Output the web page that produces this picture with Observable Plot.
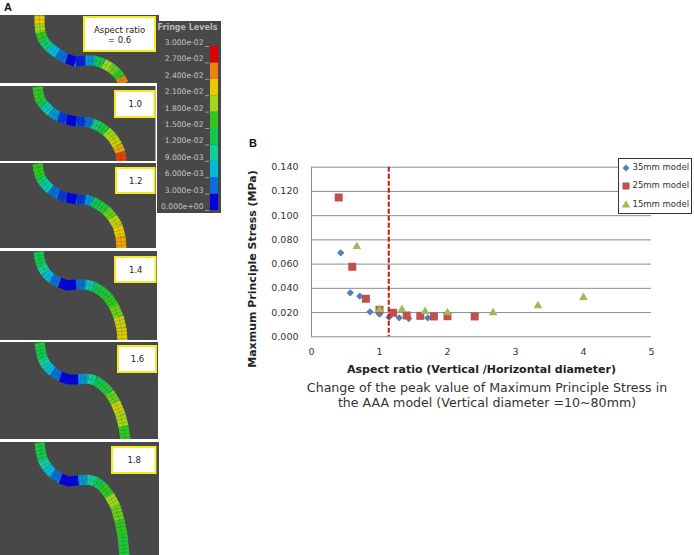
<!DOCTYPE html>
<html>
<head>
<meta charset="utf-8">
<script src="https://cdn.jsdelivr.net/npm/d3@7"></script>
<script src="https://cdn.jsdelivr.net/npm/@observablehq/plot@0.6"></script>
<style>
html,body{margin:0;padding:0;background:#fff;width:694px;height:555px;overflow:hidden;font-family:"DejaVu Sans",sans-serif}
#a,#b{position:absolute;top:0;left:0}
#b{left:240px;top:150px}
svg{display:block;background:transparent!important}
.tag{position:absolute;font:bold 11px "Liberation Sans",sans-serif;color:#111}
#caption{position:absolute;left:267px;top:380px;width:440px;text-align:center;font-size:12.6px;line-height:15px;color:#333}
#legend{position:absolute;left:618px;top:158px;width:72px;height:54px;border:1.5px solid #333;background:#fff;font-size:8.5px;color:#333}
#legend div{position:absolute;left:13.5px;white-space:nowrap}
#legend svg{position:absolute;left:2px}
</style>
</head>
<body>
<div id="a"></div>
<div id="b"></div>
<div class="tag" style="left:4px;top:1px">A</div>
<div class="tag" style="left:249px;top:137px">B</div>
<div id="caption"></div>
<div id="legend"></div>
<script>
// ---- Panel B data
const ratio35 = [0.43,0.57,0.71,0.86,1.0,1.14,1.29,1.43,1.71];
const stress35 = [0.0693,0.0363,0.0335,0.0206,0.0187,0.0162,0.0157,0.0151,0.0157];
const ratio25 = [0.4,0.6,0.8,1.0,1.2,1.4,1.6,1.8,2.0,2.4];
const stress25 = [0.115,0.0578,0.0314,0.0223,0.0198,0.0176,0.0173,0.0168,0.017,0.0168];
const ratio15 = [0.667,1.0,1.33,1.67,2.0,2.67,3.33,4.0];
const stress15 = [0.0745,0.0226,0.0226,0.0209,0.0198,0.0198,0.0256,0.0325];
const seriesNames = ["35mm model","25mm model","15mm model"];
const seriesColors = ["#4f81bd","#c0504d","#9bbb59"];
const seriesSymbols = ["diamond2","square","triangle"];
const seriesAreas = [34,64,32];
const cutoffRatio = 1.136;
const xTicks = [0,1,2,3,4,5];
const yTicks = [0,0.02,0.04,0.06,0.08,0.1,0.12,0.14];
const xTitle = "Aspect ratio (Vertical /Horizontal diameter)";
const yTitle = "Maxmum Principle Stress (MPa)";
const captionLines = ["Change of the peak value of Maximum Principle Stress in","the AAA model (Vertical diameter =10~80mm)"];

// ---- Panel A data (read in the picture's own pixel grid)
const levelColors = ["#0000e0","#0a6fd8","#00bcd8","#10d098","#10c850","#30c820","#a0d818","#ecc800","#f08010","#e00000"];
const levelIndex = [0,1,2,3,4,5,6,7,8,9];
const fringeLabels = ["3.000e-02","2.700e-02","2.400e-02","2.100e-02","1.800e-02","1.500e-02","1.200e-02","9.000e-03","6.000e-03","3.000e-03","0.000e+00"];
const fringeY = [46,62.4,78.8,95.2,111.6,128,144.4,160.8,177.2,193.6,210];
const panelRight = [159,155.5,156,157,158,159];
const panelTop = [15,86,163,251,342,442];
const panelBottom = [83,161,248,340,439,555];
const boxText = ["1.0","1.2","1.4","1.6","1.8"];
const boxL = [84,115,116,115,118,112];
const boxR = [155,154.5,154.5,155.5,156,155.5];
const boxT = [17,91,168,257,346,447];
const boxB = [51,117,193,282,372,473];

const tubeX = [
 [39,39,40,43,49,57,66,75,85,94,103,110,116,120,123],
 [37,38,40,44,50,58,66,76,85,92,99,106,112,117,120,121],
 [37,38,40,44,50,58,66,76,85,92,99,106,112,117,120,121],
 [38,39,41,45,51,59,67,76,85,93,100,107,113,118,121,122],
 [39,40,42,46,52,60,68,78,87,95,102,109,115,120,123,125],
 [39,40,42,46,52,60,68,78,87,95,102,109,115,119,122,124]
];
const tubeY = [
 [15,24,32,40,47,53,58,61,60,60,63,67,72,77,83],
 [86,93,100,105,111,116,119,121,121,123,126,131,137,145,152,161],
 [163,170,177,183,189,194,197,199,199,201,205,210,217,225,236,248],
 [251,258,265,272,278,282,285,284,284,286,290,296,305,316,328,340],
 [342,349,358,365,371,376,379,379,378,380,385,392,402,414,426,439],
 [442,450,459,466,473,478,481,480,479,481,486,495,506,520,535,555]
];
const tubeLevel = [
 [7,6,5,3.5,2,1,0,0.3,1.5,4,6,5.5,5,8,8.6],
 [5,5,4,2.5,1.5,0.5,0,0.5,1,3.5,4.5,6,6.5,7.5,8.5,9],
 [5,5,3.5,2.5,1,0.5,0,0.5,1.5,4,4.5,5.5,6.5,7,7.5,8.3],
 [4,4,3,2,1,0,0,1,2.5,4,4.5,5,5.5,6.5,6.8,7],
 [4.5,4,3,2,1,0,0,1.5,3,4,4.5,5.5,6.5,6,5,4.5],
 [4.5,4,3,2,1,0,0,1.5,3,4,5,6,5.5,5,4.5,4.5]
];

const GRAY = "#484848";
const tubePts = tubeX.flatMap((xs,p)=>xs.map((x,i)=>({p,x,y:tubeY[p][i],v:tubeLevel[p][i]})));
const panels = panelTop.map((t,i)=>({t,b:panelBottom[i],r:panelRight[i]}));
const boxes = boxL.map((l,i)=>({l,r:boxR[i],t:boxT[i],b:boxB[i]}));
const gaps = panelTop.map((t,i)=>({t:i?panelBottom[i-1]:0,b:t}));
const bands = levelIndex.map(i=>({v:i,t:fringeY[9-i],b:fringeY[10-i]}));
const fringe = fringeLabels.map((s,i)=>({s,y:fringeY[i]}));
const centerX = d=>(d.l+d.r)/2, centerY = d=>(d.t+d.b)/2;

const panelA = Plot.plot({
  width:225,height:555,margin:0,
  x:{domain:[0,225],range:[0,225],axis:null},
  y:{domain:[0,555],range:[0,555],axis:null},
  color:{type:"linear",domain:levelIndex,range:levelColors},
  style:{fontFamily:"DejaVu Sans"},
  marks:[
    Plot.rect(panels,{x1:0,x2:"r",y1:"t",y2:"b",fill:GRAY}),
    Plot.rect([{}],{x1:[157],x2:[221],y1:[21],y2:[213],fill:GRAY}),
    Plot.line(tubePts,{x:"x",y:"y",z:"p",stroke:"#2aa868",strokeWidth:9.6,strokeLinecap:"butt"}),
    Plot.line(tubePts,{x:"x",y:"y",z:"p",stroke:"v",strokeWidth:10,strokeLinecap:"butt"}),
    Plot.line(tubePts,{x:"x",y:"y",z:"p",stroke:"#222",strokeWidth:10,strokeOpacity:0.22,strokeDasharray:"0.8 2.9",strokeLinecap:"butt"}),
    Plot.line(tubePts,{x:"x",y:"y",z:"p",stroke:"#222",strokeWidth:0.5,strokeOpacity:0.3,strokeLinecap:"butt"}),
    Plot.rect(gaps,{x1:0,x2:[155,155,155,156,157,158],y1:"t",y2:"b",fill:"#fff"}),
    Plot.rect(boxes,{x1:"l",x2:"r",y1:"t",y2:"b",fill:"#fff",stroke:"#f6ea20",strokeWidth:2}),
    Plot.text(["Aspect ratio","= 0.6"],{x:[119,119],y:[29.5,39.5],text:d=>d,fontSize:8.5,fill:"#222"}),
    Plot.text(boxes.slice(1),{x:centerX,y:centerY,text:(d,i)=>boxText[i],fontSize:8.5,fill:"#222"}),
    Plot.text(["Fringe Levels"],{x:[157],y:[26.5],text:d=>d,textAnchor:"start",fontSize:8,fill:"#b8b8b8",fontWeight:"bold"}),
    Plot.text(fringe,{x:203,y:d=>d.y-4,text:"s",textAnchor:"end",fontSize:7.6,fill:"#c4c4c4"}),
    Plot.ruleY(fringe,{y:"y",x1:205,x2:209,stroke:"#c4c4c4",strokeWidth:0.7}),
    Plot.rect(bands,{x1:210,x2:218,y1:"t",y2:"b",fill:"v"})
  ]
});
document.getElementById("a").append(panelA);

const layer = (xs,ys,i)=>Plot.dot(xs.map((x,k)=>({x,y:ys[k]})),{
  x:"x",y:"y",symbol:()=>seriesSymbols[i],fill:seriesColors[i],r:Math.sqrt(seriesAreas[i]/Math.PI),stroke:"none"});

const chartB = Plot.plot({
  width:454,height:230,
  marginLeft:71,marginRight:43,marginTop:16.7,marginBottom:43.7,
  x:{domain:[0,5]},
  y:{domain:[0,0.14]},
  symbol:{domain:seriesSymbols,range:seriesSymbols},
  style:{fontFamily:"DejaVu Sans",fontSize:"9.5px",color:"#333",overflow:"visible"},
  marks:[
    Plot.ruleY(yTicks,{stroke:"#8c8c8c",strokeWidth:1}),
    Plot.ruleX([0],{stroke:"#8c8c8c",strokeWidth:1}),
    Plot.axisX({ticks:xTicks,tickSize:0,tickPadding:11,label:null,tickFormat:d=>String(d)}),
    Plot.axisY({ticks:yTicks,tickSize:0,tickPadding:13,label:null,tickFormat:d=>d.toFixed(3)}),
    layer(ratio35,stress35,0),
    layer(ratio25,stress25,1),
    layer(ratio15,stress15,2),
    Plot.ruleX([cutoffRatio],{stroke:"#cc1111",strokeWidth:2,strokeDasharray:"5 2"}),
    Plot.text([xTitle],{frameAnchor:"bottom",lineAnchor:"middle",dy:33,text:d=>d,fontWeight:"bold",fontSize:11,fill:"#222"}),
    Plot.text([yTitle],{frameAnchor:"left",textAnchor:"middle",dx:-59,dy:17,rotate:-90,text:d=>d,fontWeight:"bold",fontSize:11,fill:"#222"})
  ]
});
document.getElementById("b").append(chartB);

document.getElementById("caption").innerHTML = captionLines.join("<br>");

const legend = document.getElementById("legend");
const symbolGen = {diamond2:d3.symbolDiamond2,square:d3.symbolSquare,triangle:d3.symbolTriangle};
const rowTops = [9,27,46];
seriesNames.forEach((name,i)=>{
  const size = [30,50,30][i];
  const path = d3.symbol(symbolGen[seriesSymbols[i]],size)();
  legend.insertAdjacentHTML("beforeend",
    `<svg width="10" height="10" viewBox="-5 -5 10 10" style="top:${rowTops[i]-5}px"><path d="${path}" fill="${seriesColors[i]}"/></svg><div style="top:${rowTops[i]-6}px">${name}</div>`);
});
</script>
</body>
</html>
